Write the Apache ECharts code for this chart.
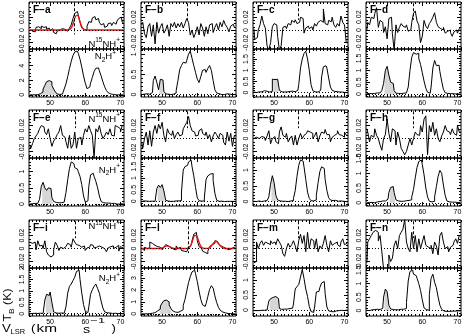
<!DOCTYPE html>
<html>
<head>
<meta charset="utf-8">
<script src="https://cdn.jsdelivr.net/npm/echarts@6/dist/echarts.min.js"></script>
<style>
html,body{margin:0;padding:0;background:#fff;}
#chart{width:463px;height:336px;}
</style>
</head>
<body>
<div id="chart"></div>
<script>
// ---------------- DATA ----------------
const velocity = [44.25,44.75,45.25,45.75,46.25,46.75,47.25,47.75,48.25,48.75,49.25,49.75,50.25,50.75,51.25,51.75,52.25,52.75,53.25,53.75,54.25,54.75,55.25,55.75,56.25,56.75,57.25,57.75,58.25,58.75,59.25,59.75,60.25,60.75,61.25,61.75,62.25,62.75,63.25,63.75,64.25,64.75,65.25,65.75,66.25,66.75,67.25,67.75,68.25,68.75,69.25,69.75,70.25,70.75];

const panelNames = ['F\u2212a','F\u2212b','F\u2212c','F\u2212d','F\u2212e','F\u2212f','F\u2212g','F\u2212h','F\u2212i','F\u2212l','F\u2212m','F\u2212n'];

// N15NH+ spectra (K)
const n15nh_a = [0.001,-0.002,0.0,-0.003,0.004,0.005,0.002,0.006,0.004,0.005,0.001,0.003,-0.001,0.002,-0.004,-0.006,-0.002,0.0,0.002,-0.001,0.001,-0.002,0.0,0.003,0.008,0.018,0.026,0.029,0.024,0.012,0.003,0.0,0.001,0.006,0.013,0.012,0.019,0.021,0.016,0.018,0.012,0.008,0.01,0.004,0.006,0.01,0.011,0.007,0.012,0.009,0.014,0.018,0.02,0.012];
const n15nh_b = [0.008,0.012,-0.006,-0.012,0.005,0.01,-0.01,0.008,-0.022,0.012,-0.005,0.005,0.01,-0.005,0.0,0.008,-0.01,0.01,0.005,0.012,0.003,0.01,0.005,0.012,0.003,0.01,0.018,0.012,-0.008,0.0,-0.012,-0.005,0.005,-0.008,0.01,0.003,-0.01,0.005,-0.006,0.008,0.01,-0.004,0.004,0.01,0.0,0.012,0.005,0.015,0.008,0.004,-0.003,0.006,0.009,0.004];
const n15nh_c = [0.002,-0.015,-0.012,0.0,0.008,0.022,0.01,0.003,-0.025,-0.032,-0.02,0.005,0.01,0.008,-0.01,-0.032,-0.025,0.004,0.006,0.002,0.01,0.008,0.015,0.012,0.016,0.01,0.012,0.02,0.018,-0.005,0.003,0.006,0.002,0.005,0.0,0.01,0.006,0.012,0.015,0.012,0.033,0.01,0.008,0.015,0.013,0.02,0.008,0.004,0.01,0.006,0.022,0.012,0.008,-0.02];
const n15nh_d = [0.0,0.012,0.008,0.02,0.018,0.026,0.035,0.004,0.015,0.012,-0.004,0.005,-0.014,0.018,0.02,-0.006,-0.032,0.008,-0.004,0.004,0.01,0.006,0.004,0.008,-0.002,0.0,0.012,0.026,0.03,0.014,0.008,-0.02,-0.01,0.015,0.006,0.002,0.01,0.014,0.02,0.027,0.012,0.005,0.002,0.0,0.004,-0.005,-0.002,0.0,-0.004,-0.01,-0.003,0.0,-0.005,0.002];
const n15nh_e = [-0.01,-0.015,-0.008,0.0,0.004,0.008,0.015,0.02,0.018,0.01,0.006,0.015,0.0,-0.012,-0.004,0.0,0.006,0.01,0.02,0.005,0.002,-0.005,-0.015,0.005,-0.015,-0.01,0.01,-0.015,0.0,0.002,-0.01,0.005,0.015,0.01,0.02,0.012,0.005,-0.03,0.015,0.01,0.02,0.008,0.0,0.004,0.01,0.006,0.015,0.005,0.004,0.02,0.018,0.015,0.01,0.02];
const n15nh_f = [-0.007,-0.015,0.0,0.01,-0.01,0.012,-0.012,0.01,0.02,0.008,0.022,0.015,0.025,0.005,-0.005,0.015,0.008,0.005,0.012,0.0,0.006,0.01,0.004,0.006,0.015,0.02,0.025,0.034,0.02,0.012,0.01,0.004,0.005,0.012,0.015,0.008,0.005,0.01,0.0,0.006,-0.005,0.004,0.01,0.006,0.0,0.008,0.005,-0.006,-0.01,0.01,-0.004,0.008,-0.012,0.004];
const n15nh_g = [0.0,0.002,0.001,0.0,0.003,0.005,0.002,-0.003,0.004,0.012,-0.008,0.0,0.003,-0.005,-0.008,0.01,0.018,0.005,0.002,0.008,-0.005,0.0,0.004,-0.01,0.005,-0.01,0.0,0.008,0.0,0.005,0.008,0.012,0.01,0.008,0.0,0.004,0.01,-0.005,0.004,0.01,0.008,0.014,0.006,0.006,-0.005,0.002,0.005,0.008,0.012,0.006,0.005,0.002,0.01,0.005];
const n15nh_h = [0.015,0.01,-0.005,0.005,0.002,0.015,0.005,0.0,-0.01,-0.018,0.0,0.006,0.03,0.008,-0.005,0.015,0.012,-0.01,0.01,0.0,-0.015,-0.02,-0.025,-0.02,-0.01,0.0,-0.01,0.0,0.01,0.006,0.005,0.02,0.01,0.03,0.035,-0.025,0.02,0.01,0.025,0.005,0.015,0.0,-0.005,0.004,0.01,0.02,0.012,0.01,0.006,0.015,0.008,0.005,0.02,0.01];
const n15nh_i = [0.01,0.008,0.005,0.01,-0.002,0.012,0.004,0.005,0.0,0.012,-0.005,-0.01,-0.013,-0.01,-0.002,0.01,0.005,-0.003,0.002,0.0,0.003,0.005,0.008,0.006,0.002,0.015,0.01,0.006,0.005,0.002,0.0,0.004,-0.003,0.001,0.002,0.006,0.005,0.001,0.002,0.004,0.005,0.002,0.0,0.003,-0.005,0.001,0.003,0.004,0.0,0.002,0.005,-0.004,0.003,0.001];
const n15nh_l = [0.0,-0.003,0.002,0.0,0.001,0.01,0.008,0.005,0.004,0.003,0.002,0.0,-0.002,0.002,0.006,0.004,0.002,0.0,-0.001,-0.002,0.004,0.0,0.002,-0.003,-0.004,-0.005,-0.002,0.002,0.005,0.012,0.022,0.025,0.012,0.003,0.0,-0.004,-0.006,-0.008,-0.004,0.003,0.006,0.008,0.012,0.011,0.007,0.004,0.002,0.003,0.0,-0.002,0.001,0.0,0.002,0.001];
const n15nh_m = [-0.022,-0.02,0.01,0.0,0.008,0.012,0.005,0.01,0.008,0.006,0.012,0.008,0.01,0.006,0.015,0.01,0.005,-0.008,-0.012,0.0,0.008,0.002,0.006,0.012,0.004,-0.005,0.012,0.022,0.008,0.02,-0.005,0.025,0.0,0.015,0.012,0.0,0.015,-0.005,0.004,0.0,0.008,0.02,0.005,-0.005,0.012,0.005,0.008,0.01,0.006,0.003,0.01,0.015,0.006,0.008];
const n15nh_n = [-0.022,0.01,0.015,0.02,0.025,0.028,0.025,0.012,0.02,-0.005,-0.032,-0.032,-0.032,-0.01,-0.02,-0.015,0.005,0.012,0.0,0.02,0.025,0.03,0.045,0.01,0.0,-0.005,0.025,0.0,0.02,-0.005,0.015,0.0,0.01,0.02,0.005,0.002,0.0,0.005,-0.008,0.01,0.004,-0.01,0.02,0.025,0.01,0.0,0.003,-0.005,0.002,0.005,0.01,0.015,0.008,0.02];

// hyperfine fits to N15NH+ (K)
const fit_a = [0,0,0,0,0,0,0,0,0,0,0,0,0,0,0,0,0,0,0,0,0,0,0.0003,0.0016,0.0058,0.0135,0.0216,0.0234,0.0174,0.0085,0.0027,0.0006,0,0,0,0,0,0,0,0,0,0,0,0,0,0,0,0,0,0,0,0,0,0];
const fit_l = [0,0,0,0,0,0,0,0,0,0,0,0.0005,0.0014,0.0029,0.004,0.0036,0.0023,0.0012,0.0003,0,0,0,0,0,0,0,0.0004,0.0019,0.0062,0.0135,0.02,0.02,0.0135,0.0062,0.0019,0.0004,0,0.0002,0.0008,0.0025,0.0056,0.0091,0.011,0.0097,0.0063,0.003,0.0011,0.0003,0,0,0,0,0,0];

// N2H+ spectra (K)
const n2h_a = [0,0,0,0,0.02,0.05,0.15,0.4,0.8,1.3,1.8,1.95,1.8,1.3,0.8,0.4,0.12,0.05,0.1,0.3,0.8,1.5,2.5,3.6,4.6,5.4,5.9,6.0,5.7,4.9,3.8,2.6,1.6,0.85,1.05,1.6,2.4,3.2,3.65,3.7,3.3,2.6,1.8,1.1,0.6,0.3,0.12,0.05,0,0,0,0,0,0];
const n2h_b = [0,0.01,0,0.02,0.01,0.0,0.05,0.35,0.46,0.3,0.12,0.38,0.36,0.08,0.02,0.01,0.0,0.02,0.01,0.04,0.1,0.35,0.62,0.72,0.8,0.78,0.85,1.0,1.08,0.9,0.72,0.55,0.38,0.3,0.45,0.6,0.62,0.55,0.65,0.72,0.6,0.35,0.12,0.04,0.02,0.0,0.01,0.0,0.02,0.0,0.01,0.0,0.01,0.0];
const n2h_c = [0.02,0.0,0.02,0.03,0.03,0.05,0.08,0.06,0.03,0.02,0.05,0.6,0.58,0.6,0.55,0.1,0.03,0.02,0.04,0.03,0.05,0.08,0.06,0.04,0.05,0.1,0.35,1.1,1.5,1.75,1.85,1.5,1.0,0.35,0.08,0.03,0.02,0.03,0.1,0.7,1.15,1.2,1.1,0.65,0.25,0.1,0.05,0.04,0.03,0.02,0.02,0.01,0.0,0.0];
const n2h_d = [0.02,0.03,0.01,0.02,0.03,0.04,0.05,0.05,0.08,0.15,0.45,1.0,1.17,0.8,0.5,0.45,0.15,0.04,0.03,0.02,0.03,0.04,0.05,0.1,0.3,1.0,1.55,1.75,1.68,1.72,1.5,1.25,0.9,0.55,0.25,0.08,0.04,0.3,1.1,1.42,1.2,1.22,0.95,0.55,0.2,0.06,0.03,0.02,0.01,0.02,0.01,0.0,0.01,0.0];
const n2h_e = [0.0,0.01,0.0,0.02,0.02,0.05,0.15,0.55,0.67,0.5,0.42,0.5,0.48,0.2,0.08,0.05,0.04,0.05,0.04,0.06,0.1,0.35,0.75,1.1,1.3,1.25,1.12,1.08,1.0,0.85,0.6,0.25,0.06,0.1,0.55,0.9,0.95,0.85,0.7,0.5,0.25,0.08,0.04,0.03,0.02,0.03,0.02,0.01,0.02,0.0,0.01,0.0,0.01,0.0];
const n2h_f = [0.0,0.02,0.0,0.01,0.0,0.02,0.01,0.0,0.05,0.55,0.7,0.6,0.72,0.45,0.05,0.01,0.0,0.01,0.0,0.02,0.01,0.02,0.03,0.4,1.35,1.5,1.55,1.7,1.78,1.5,1.1,0.6,0.15,0.03,0.01,0.02,0.15,0.95,1.1,1.18,1.2,0.9,0.35,0.05,0.0,0.01,0.0,-0.01,0.0,0.01,0.0,0.0,0.01,0.0];
const n2h_g = [0.01,0.0,0.01,0.02,0.0,0.01,0.02,0.03,0.05,0.15,0.55,0.82,0.6,0.2,0.05,0.02,0.01,0.0,0.01,0.0,0.01,0.02,0.03,0.1,0.35,0.8,1.15,1.32,1.28,1.1,0.7,0.3,0.1,0.03,0.02,0.05,0.2,0.6,0.95,1.1,1.05,0.7,0.35,0.12,0.05,0.03,0.04,0.02,0.01,0.02,0.0,0.01,0.0,0.0];
const n2h_h = [0.0,0.01,0.0,0.01,0.0,0.02,0.03,0.04,0.05,0.06,0.06,0.08,0.12,0.35,0.52,0.55,0.35,0.1,0.06,0.05,0.06,0.05,0.07,0.08,0.08,0.1,0.2,0.45,0.85,1.2,1.4,1.45,1.3,0.95,0.5,0.2,0.05,0.03,0.05,0.2,0.55,0.9,1.1,1.0,0.6,0.25,0.06,0.03,0.02,0.01,0.02,0.01,0.0,0.01];
const n2h_i = [0.0,0.01,0.0,0.02,0.01,0.0,0.02,0.01,0.05,0.6,0.85,0.8,0.95,0.5,0.08,0.03,0.02,0.01,0.03,0.02,0.05,0.3,0.9,1.2,1.3,1.45,1.6,1.85,1.9,1.5,0.9,0.4,0.1,0.05,0.3,0.85,1.05,1.2,1.3,1.1,0.9,0.55,0.25,0.08,0.04,0.03,0.02,0.01,0.02,0.0,0.01,0.0,0.01,0.0];
const n2h_l = [0.0,0.0,0.01,0.0,0.02,0.03,0.05,0.1,0.15,0.25,0.4,0.65,0.9,1.1,1.15,1.0,0.75,0.45,0.25,0.15,0.12,0.15,0.22,0.35,0.7,1.2,1.9,2.6,3.1,3.5,3.65,3.35,2.7,1.9,1.2,0.75,0.62,0.85,1.45,2.05,2.35,2.15,1.5,0.95,0.55,0.3,0.15,0.08,0.04,0.03,0.02,0.0,0.01,0.0];
const n2h_m = [-0.02,-0.02,-0.01,-0.02,-0.01,0.0,-0.01,0.0,0.02,0.3,0.38,0.42,0.45,0.4,0.38,0.05,0.02,0.03,0.02,0.03,0.05,0.04,0.06,0.2,0.7,0.78,0.85,1.1,1.35,1.05,0.7,0.45,0.12,-0.05,-0.08,0.1,0.6,0.62,0.75,0.9,0.95,0.55,0.1,-0.03,-0.05,-0.06,-0.04,-0.03,-0.02,-0.02,-0.01,-0.02,-0.01,0.0];
const n2h_n = [0.01,0.0,0.02,0.03,0.04,0.03,0.05,0.04,0.05,0.08,0.5,0.8,0.7,0.2,0.06,0.04,0.03,0.04,0.03,0.05,0.06,0.05,0.08,0.3,1.1,1.45,1.5,1.35,1.3,1.2,1.0,0.75,0.4,0.1,0.03,0.02,0.6,1.2,1.35,1.05,0.85,0.5,0.2,0.05,-0.02,-0.03,-0.04,-0.03,-0.02,-0.03,-0.02,-0.01,-0.02,-0.01];

// velocity span of the shaded (isolated) hyperfine component, km/s
const fill_a = [46.75, 52.75], fill_b = [49.25, 50.75], fill_c = [49.75, 51.25], fill_d = [49.25, 52.25];
const fill_e = [47.75, 50.75], fill_f = [48.75, 50.75], fill_g = [49.25, 50.75], fill_h = [50.75, 52.25];
const fill_i = [48.75, 50.75], fill_l = [49.25, 52.75], fill_m = [48.75, 51.25], fill_n = [49.25, 50.75];

// expected velocity marker (dashed) km/s
const markerVelocity = [56.8, 57.2, 57.0, 57.3, 57.2, 57.2, 57.0, 57.3, 57.2, 57.3, 57.0, 57.3];

// tick labels
const xTickLabels = [50, 60, 70];
const n15nhTickLabels = [-0.02, 0, 0.02, 0.04];
const ticks_a = [0, 2, 4, 6];
const ticks_b = [0, 0.5, 1];
const ticks_c = [0, 0.5, 1, 1.5];
const ticks_d = [0, 0.5, 1, 1.5];
const ticks_e = [0, 0.5, 1];
const ticks_f = [0, 0.5, 1, 1.5];
const ticks_g = [0, 0.5, 1];
const ticks_h = [0, 0.5, 1, 1.5];
const ticks_i = [0, 0.5, 1, 1.5, 2];
const ticks_l = [0, 1, 2, 3];
const ticks_m = [0, 0.5, 1];
const ticks_n = [0, 0.5, 1, 1.5];

// ---------------- LAYOUT / STYLE ----------------
const FONT = 'Liberation Sans, Arial, Helvetica, sans-serif';
const colLeft = [29, 141, 253, 366];
const colWidth = 95;
const rowTop = [2, 110, 220];
const topH = [47, 48, 48];
const botH = [48, 48, 48];
const X_MIN = 44, X_MAX = 71;
const TOP_RANGE = [-0.03, 0.044];

const panels = [
  {n15: n15nh_a, n2: n2h_a, fit: fit_a, yr: [-0.3, 6.3], yt: ticks_a, ms: 0.5, fill: fill_a, mLow: -0.007},
  {n15: n15nh_b, n2: n2h_b, fit: null, yr: [-0.06, 1.13], yt: ticks_b, ms: 0.1, fill: fill_b, mLow: 0.016},
  {n15: n15nh_c, n2: n2h_c, fit: null, yr: [-0.2, 1.95], yt: ticks_c, ms: 0.1, fill: fill_c, mLow: 0.016},
  {n15: n15nh_d, n2: n2h_d, fit: null, yr: [-0.12, 1.9], yt: ticks_d, ms: 0.1, fill: fill_d, mLow: 0.016},
  {n15: n15nh_e, n2: n2h_e, fit: null, yr: [-0.06, 1.42], yt: ticks_e, ms: 0.1, fill: fill_e, mLow: 0.016},
  {n15: n15nh_f, n2: n2h_f, fit: null, yr: [-0.2, 1.87], yt: ticks_f, ms: 0.1, fill: fill_f, mLow: 0.016},
  {n15: n15nh_g, n2: n2h_g, fit: null, yr: [-0.14, 1.38], yt: ticks_g, ms: 0.1, fill: fill_g, mLow: 0.016},
  {n15: n15nh_h, n2: n2h_h, fit: null, yr: [-0.11, 1.52], yt: ticks_h, ms: 0.1, fill: fill_h, mLow: 0.016},
  {n15: n15nh_i, n2: n2h_i, fit: null, yr: [-0.1, 2.0], yt: ticks_i, ms: 0.1, fill: fill_i, mLow: 0.016},
  {n15: n15nh_l, n2: n2h_l, fit: fit_l, yr: [-0.18, 3.83], yt: ticks_l, ms: 0.2, fill: fill_l, mLow: -0.007},
  {n15: n15nh_m, n2: n2h_m, fit: null, yr: [-0.2, 1.4], yt: ticks_m, ms: 0.1, fill: fill_m, mLow: 0.016},
  {n15: n15nh_n, n2: n2h_n, fit: null, yr: [-0.2, 1.58], yt: ticks_n, ms: 0.1, fill: fill_n, mLow: 0.016}
];

function minorVals(min, max, step, majors) {
  const out = [];
  const k0 = Math.ceil(min / step - 1e-9), k1 = Math.floor(max / step + 1e-9);
  for (let k = k0; k <= k1; k++) {
    const v = +(k * step).toFixed(6);
    if (!majors.some(m => Math.abs(m - v) < 1e-9)) out.push(v);
  }
  return out;
}
function fmt(v) { return String(+(+v).toFixed(3)); }

const grids = [], xAxes = [], yAxes = [], series = [], graphics = [];

function addGrid(left, top, width, height, showX, yMin, yMax, yMajors, yStep) {
  const gi = grids.length;
  grids.push({left, top, width, height, show: true, borderColor: '#000', borderWidth: 1,
    backgroundColor: 'transparent', containLabel: false, outerBoundsMode: 'none'});
  const xMinor = minorVals(X_MIN, X_MAX, 1, xTickLabels);
  const yMinor = minorVals(yMin, yMax, yStep, yMajors);
  const common = {type: 'value', gridIndex: gi, splitLine: {show: false}, axisLine: {show: false, onZero: false}};
  const xc = Object.assign({}, common, {min: X_MIN, max: X_MAX});
  const yc = Object.assign({}, common, {min: yMin, max: yMax});
  const tick = (vals, len) => ({show: true, inside: true, length: len, customValues: vals, lineStyle: {color: '#000', width: 1}});
  const noLab = vals => ({show: false, customValues: vals});
  xAxes.push(Object.assign({}, xc, {position: 'bottom', axisTick: tick(xTickLabels, 4),
    axisLabel: {show: showX, customValues: xTickLabels, margin: 3, fontSize: 7, fontFamily: FONT, color: '#000'}}));
  xAxes.push(Object.assign({}, xc, {position: 'top', axisTick: tick(xTickLabels, 4), axisLabel: noLab(xTickLabels)}));
  xAxes.push(Object.assign({}, xc, {position: 'bottom', axisTick: tick(xMinor, 2), axisLabel: noLab(xMinor)}));
  xAxes.push(Object.assign({}, xc, {position: 'top', axisTick: tick(xMinor, 2), axisLabel: noLab(xMinor)}));
  yAxes.push(Object.assign({}, yc, {position: 'left', axisTick: tick(yMajors, 4),
    axisLabel: {show: true, customValues: yMajors, rotate: 90, margin: 3, fontSize: 7, fontFamily: FONT, color: '#000', formatter: fmt}}));
  yAxes.push(Object.assign({}, yc, {position: 'right', axisTick: tick(yMajors, 4), axisLabel: noLab(yMajors)}));
  yAxes.push(Object.assign({}, yc, {position: 'left', axisTick: tick(yMinor, 2), axisLabel: noLab(yMinor)}));
  yAxes.push(Object.assign({}, yc, {position: 'right', axisTick: tick(yMinor, 2), axisLabel: noLab(yMinor)}));
  return gi;
}

const dotted = {type: [1, 2], color: '#000', width: 1};
const dashed = {type: [3, 2], color: '#000', width: 1};

panels.forEach((p, k) => {
  const row = Math.floor(k / 4), col = k % 4;
  const L = colLeft[col];
  const t0 = rowTop[row];
  // top: N15NH+
  const gTop = addGrid(L, t0, colWidth, topH[row], false, TOP_RANGE[0], TOP_RANGE[1], n15nhTickLabels, 0.005);
  series.push({
    type: 'line', xAxisIndex: gTop * 4, yAxisIndex: gTop * 4, step: 'middle', symbol: 'none', clip: true,
    data: velocity.map((v, i) => [v, p.n15[i]]),
    lineStyle: {color: '#000', width: 1}, z: 3,
    markLine: {silent: true, symbol: ['none', 'none'], label: {show: false}, animation: false,
      data: [
        {yAxis: 0, lineStyle: dotted},
        [{coord: [markerVelocity[k], 0.042], lineStyle: dashed}, {coord: [markerVelocity[k], p.mLow]}]
      ]}
  });
  if (p.fit) {
    series.push({
      type: 'line', xAxisIndex: gTop * 4, yAxisIndex: gTop * 4, smooth: 0.4, symbol: 'none', clip: true,
      data: velocity.map((v, i) => [v, p.fit[i]]),
      lineStyle: {color: '#ee1111', width: 1.4}, z: 4
    });
  }
  // bottom: N2H+
  const gBot = addGrid(L, t0 + topH[row], colWidth, botH[row], true, p.yr[0], p.yr[1], p.yt, p.ms);
  series.push({
    type: 'line', xAxisIndex: gBot * 4, yAxisIndex: gBot * 4, step: 'middle', symbol: 'none', clip: true,
    data: velocity.map((v, i) => [v, p.n2[i]]).filter(d => d[0] >= p.fill[0] && d[0] <= p.fill[1]),
    lineStyle: {width: 0, opacity: 0}, areaStyle: {color: '#d6d6d6', opacity: 1}, z: 2
  });
  series.push({
    type: 'line', xAxisIndex: gBot * 4, yAxisIndex: gBot * 4, step: 'middle', symbol: 'none', clip: true,
    data: velocity.map((v, i) => [v, p.n2[i]]),
    lineStyle: {color: '#000', width: 1}, z: 3,
    markLine: {silent: true, symbol: ['none', 'none'], label: {show: false}, animation: false,
      data: [{yAxis: 0, lineStyle: dotted}]}
  });
  // panel name
  graphics.push({type: 'text', x: L + 4, y: t0 + 3, z: 100,
    style: {text: panelNames[k], fontSize: 10, fontWeight: 'bold', fontFamily: FONT, fill: '#000', align: 'left', verticalAlign: 'top'}});
});

// molecule labels
const richBase = {
  n: {fontSize: 9.5, fontFamily: FONT, lineHeight: 14, verticalAlign: 'middle', color: '#000'},
  s: {fontSize: 6.5, fontFamily: FONT, lineHeight: 7, verticalAlign: 'top', color: '#000'},
  b: {fontSize: 6.5, fontFamily: FONT, lineHeight: 7, verticalAlign: 'bottom', color: '#000'}
};
const n15Label = '{n|N}{s|15}{n|NH}{s|+}';
const n2Label = '{n|N}{b|2}{n|H}{s|+}';
[[120, 37], [120, 112], [120, 219.5]].forEach(pos => {
  graphics.push({type: 'text', x: pos[0], y: pos[1], z: 100,
    style: {text: n15Label, rich: richBase, align: 'right', verticalAlign: 'top'}});
});
[[116, 49.5], [120, 163], [120, 271.5]].forEach(pos => {
  graphics.push({type: 'text', x: pos[0], y: pos[1], z: 100,
    style: {text: n2Label, rich: richBase, align: 'right', verticalAlign: 'top'}});
});

// axis titles
graphics.push({type: 'text', x: 7.5, y: 305, rotation: Math.PI / 2, scaleX: 1.12, z: 100,
  style: {text: '{n|T}{b|B}{n| (K)}', align: 'center', verticalAlign: 'middle',
    rich: {n: {fontSize: 11, fontFamily: FONT, lineHeight: 16, verticalAlign: 'middle', color: '#000'},
           b: {fontSize: 7.5, fontFamily: FONT, lineHeight: 8, verticalAlign: 'bottom', color: '#000'}}}});
const vPieces = [
  ['V', 2, 329, 11, 1.2], ['LSR', 10.5, 332, 7.5, 1.0], ['(', 31, 329, 11, 1.2], ['km', 36.5, 329, 11, 1.4],
  ['s', 83, 329.5, 11, 1.3], ['\u22121', 90.5, 320.5, 8, 1.6], [')', 111.5, 329, 11, 1.2]
];
vPieces.forEach(pc => {
  graphics.push({type: 'text', x: pc[1], y: pc[2], scaleX: pc[4], z: 100,
    style: {text: pc[0], fontSize: pc[3], fontFamily: FONT, fill: '#000', align: 'left', verticalAlign: 'middle'}});
});

const chart = echarts.init(document.getElementById('chart'), null, {renderer: 'canvas'});
chart.setOption({
  animation: false,
  backgroundColor: '#fff',
  textStyle: {fontFamily: FONT},
  grid: grids,
  xAxis: xAxes,
  yAxis: yAxes,
  series: series,
  graphic: graphics
});
</script>
</body>
</html>
